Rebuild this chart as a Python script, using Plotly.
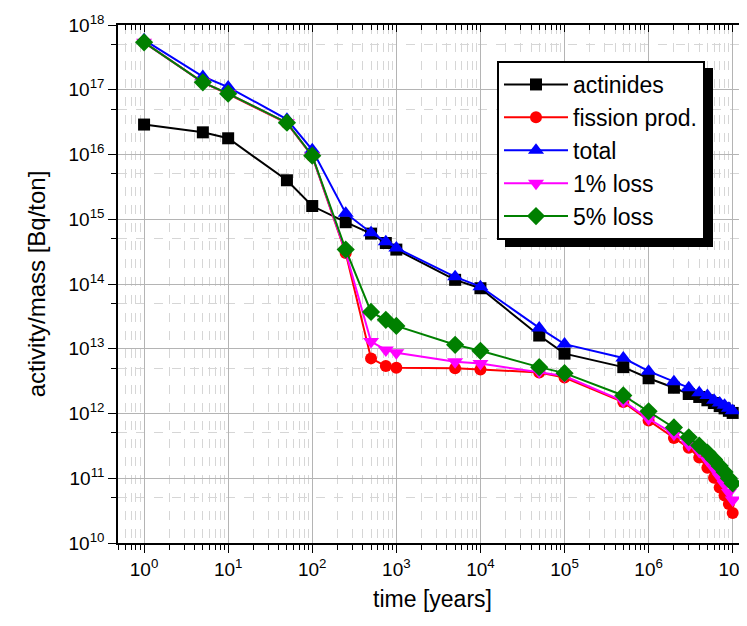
import plotly.graph_objects as go

# ---------------- data ----------------
time_years = [1, 5, 10, 50, 100, 250, 500, 750, 1000, 5000, 1e4, 5e4, 1e5, 5e5,
              1e6, 2e6, 3e6, 4e6, 5e6, 6e6, 7e6, 8e6, 9e6, 1e7]

actinides = [2.9e16, 2.2e16, 1.78e16, 4.0e15, 1.6e15, 9.0e14, 6.0e14, 4.3e14, 3.4e14,
             1.16e14, 8.6e13, 1.6e13, 8.4e12, 5.2e12, 3.5e12, 2.5e12, 2.0e12, 1.8e12,
             1.6e12, 1.45e12, 1.3e12, 1.2e12, 1.1e12, 1.02e12]

fission_prod = [5.4e17, 1.3e17, 8.6e16, 3.05e16, 9.4e15, 3.0e14, 7.1e12, 5.4e12, 5.1e12,
                5.0e12, 4.8e12, 4.3e12, 3.6e12, 1.5e12, 7.8e11, 4.2e11, 2.95e11, 2.1e11,
                1.45e11, 1.02e11, 7.2e10, 5.4e10, 4.0e10, 2.9e10]

total = [5.9e17, 1.6e17, 1.1e17, 3.5e16, 1.18e16, 1.24e15, 6.2e14, 4.5e14, 3.6e14,
         1.29e14, 9.1e13, 2.1e13, 1.18e13, 7.2e12, 4.5e12, 3.1e12, 2.5e12, 2.1e12,
         1.9e12, 1.6e12, 1.45e12, 1.34e12, 1.2e12, 1.1e12]

loss_1pct = [5.4e17, 1.3e17, 8.7e16, 3.1e16, 9.5e15, 3.1e14, 1.29e13, 9.6e12, 8.7e12,
             6.3e12, 5.9e12, 4.4e12, 3.8e12, 1.55e12, 8.3e11, 4.8e11, 3.3e11, 2.6e11,
             1.9e11, 1.4e11, 1.05e11, 8.0e10, 6.0e10, 4.6e10]

loss_5pct = [5.4e17, 1.3e17, 8.7e16, 3.1e16, 9.6e15, 3.4e14, 3.7e13, 2.8e13, 2.25e13,
             1.15e13, 9.3e12, 5.2e12, 4.2e12, 1.9e12, 1.08e12, 6.1e11, 4.3e11, 3.2e11,
             2.5e11, 1.95e11, 1.55e11, 1.25e11, 1.0e11, 8.3e10]

series_names = ["actinides", "fission prod.", "total", "1% loss", "5% loss"]

x_tick_vals = [1, 10, 100, 1e3, 1e4, 1e5, 1e6, 1e7]
x_tick_text = ["10<sup>0</sup>", "10<sup>1</sup>", "10<sup>2</sup>", "10<sup>3</sup>",
               "10<sup>4</sup>", "10<sup>5</sup>", "10<sup>6</sup>", "10<sup>7</sup>"]
y_tick_vals = [1e10, 1e11, 1e12, 1e13, 1e14, 1e15, 1e16, 1e17, 1e18]
y_tick_text = ["10<sup>10</sup>", "10<sup>11</sup>", "10<sup>12</sup>", "10<sup>13</sup>",
               "10<sup>14</sup>", "10<sup>15</sup>", "10<sup>16</sup>", "10<sup>17</sup>",
               "10<sup>18</sup>"]
y_minor_vals = [5e9, 5e10, 5e11, 5e12, 5e13, 5e14, 5e15, 5e16, 5e17]

# ---------------- figure ----------------
FONT = "Arial, 'Liberation Sans', sans-serif"

styles = [
    dict(color="#000000", symbol="square", size=12),
    dict(color="#ff0000", symbol="circle", size=12),
    dict(color="#0000ff", symbol="triangle-up", size=14),
    dict(color="#ff00ff", symbol="triangle-down", size=14),
    dict(color="#008000", symbol="diamond", size=14),
]
series = [actinides, fission_prod, total, loss_1pct, loss_5pct]

fig = go.Figure()
for name, ys, st in zip(series_names, series, styles):
    fig.add_trace(go.Scatter(
        x=time_years, y=ys, name=name, mode="lines+markers",
        line=dict(color=st["color"], width=2),
        marker=dict(color=st["color"], symbol=st["symbol"], size=st["size"],
                    line=dict(width=0)),
    ))

# helper trace so the top (mirror) axis with inward ticks is drawn
fig.add_trace(go.Scatter(x=[], y=[], xaxis="x2", yaxis="y", showlegend=False,
                         hoverinfo="skip"))

# page body has an 8px margin, so the figure is offset by 8px
W, H = 739, 618
L, T = 110, 17
R, B = 0, 83
pw, ph = W - L - R, H - T - B

def px_x(px):
    return (px - L) / pw

def px_y(py):
    return (H - B - py) / ph

X_RANGE = [-0.31, 7.17]

# legend drop shadow (8px offset from legend box)
fig.add_shape(type="rect", xref="paper", yref="paper",
              x0=px_x(497), x1=px_x(705), y0=px_y(239), y1=px_y(60),
              fillcolor="black", line=dict(width=0), layer="above")

tickfont = dict(family=FONT, size=19, color="black")
grid_major = "#b4b4b4"
grid_minor = "#d6d6d6"

fig.update_layout(
    width=W, height=H,
    margin=dict(l=L, r=R, t=T, b=B, pad=0),
    paper_bgcolor="white", plot_bgcolor="white",
    font=dict(family=FONT, color="black"),
    xaxis=dict(type="log", range=X_RANGE, showline=True, linecolor="black",
               linewidth=1.5, mirror=True, ticks="outside", ticklen=8, tickwidth=1.2,
               tickcolor="black", showgrid=True, gridcolor=grid_major, gridwidth=1.3,
               zeroline=False, tickfont=tickfont, tickmode="array",
               tickvals=x_tick_vals, ticktext=x_tick_text,
               minor=dict(dtick="D1", ticks="outside", ticklen=5, tickcolor="black",
                          showgrid=True, gridcolor=grid_minor, griddash="dash",
                          gridwidth=1),
               title=dict(text="time [years]", font=dict(family=FONT, size=23),
                          standoff=12)),
    xaxis2=dict(type="log", range=X_RANGE, overlaying="x", side="top",
                showline=False, ticks="inside", ticklen=7, tickwidth=1.2,
                tickcolor="black", showgrid=False, zeroline=False,
                showticklabels=False, tickmode="array", tickvals=x_tick_vals,
                minor=dict(dtick="D1", ticks="inside", ticklen=5, tickcolor="black",
                           showgrid=False)),
    yaxis=dict(type="log", range=[10, 18], showline=True, linecolor="black",
               linewidth=1.5, mirror=False, ticks="outside", ticklen=8, tickwidth=1.2,
               tickcolor="black", showgrid=True, gridcolor=grid_major, gridwidth=1.3,
               zeroline=False, tickfont=tickfont, tickmode="array",
               tickvals=y_tick_vals, ticktext=y_tick_text,
               minor=dict(tickmode="array", tickvals=y_minor_vals, ticks="outside",
                          ticklen=5, tickcolor="black", showgrid=True,
                          gridcolor=grid_minor, griddash="dash", gridwidth=1),
               title=dict(text="activity/mass [Bq/ton]", font=dict(family=FONT, size=24),
                          standoff=16)),
    legend=dict(x=px_x(489), y=px_y(53), xanchor="left", yanchor="top",
                bgcolor="white", bordercolor="black", borderwidth=2,
                font=dict(family=FONT, size=23, color="black"),
                tracegroupgap=0, itemwidth=64),
    showlegend=True,
)

fig.write_html("out.html")
